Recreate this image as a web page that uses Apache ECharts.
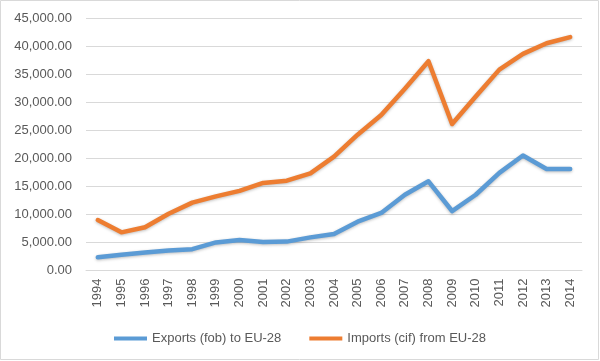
<!DOCTYPE html>
<html><head><meta charset="utf-8">
<script src="https://cdn.jsdelivr.net/npm/echarts@6/dist/echarts.min.js"></script>
<style>html,body{margin:0;padding:0;background:#fff}#c{width:600px;height:361px}</style>
</head><body><div id="c"></div>
<script>
var years = ['1994','1995','1996','1997','1998','1999','2000','2001','2002','2003','2004','2005','2006','2007','2008','2009','2010','2011','2012','2013','2014'];
var exportsEU = [2350,2800,3200,3550,3800,5000,5450,5100,5150,5900,6500,8700,10250,13500,15900,10600,13500,17400,20500,18100,18100];
var importsEU = [9000,6800,7700,10100,12100,13200,14200,15600,16000,17300,20300,24200,27700,32400,37300,26100,31000,35800,38600,40500,41600];
var seriesNames = ['Exports (fob) to EU-28','Imports (cif) from EU-28'];
var chart = echarts.init(document.getElementById('c'));
var font = 'Liberation Sans, Arial, sans-serif';
chart.setOption({
  animation:false,
  graphic:[{type:'rect',shape:{x:0.5,y:0.5,width:598,height:359},style:{fill:'none',stroke:'#d9d9d9',lineWidth:1}}],
  grid:{left:86,right:18,top:18,bottom:90.5},
  legend:{top:327,left:'center',itemGap:28,itemWidth:33,itemHeight:4,icon:'rect',
    textStyle:{color:'#595959',fontSize:13,fontFamily:font},
    data:seriesNames},
  xAxis:{type:'category',data:years,boundaryGap:true,
    axisLine:{lineStyle:{color:'#d9d9d9'}},axisTick:{show:false},
    axisLabel:{rotate:90,color:'#595959',fontSize:13,fontFamily:font,margin:8,interval:0}},
  yAxis:{type:'value',min:0,max:45000,interval:5000,
    axisLine:{show:false},axisTick:{show:false},
    splitLine:{lineStyle:{color:'#d9d9d9'}},
    axisLabel:{color:'#595959',fontSize:13,fontFamily:font,margin:14,
      formatter:function(v){return v.toLocaleString('en-US',{minimumFractionDigits:2,maximumFractionDigits:2});}}},
  series:[
    {name:seriesNames[0],type:'line',data:exportsEU,symbol:'none',
     lineStyle:{color:'#5b9bd5',width:4.5,join:'round',cap:'round',shadowColor:'rgba(0,0,0,0.25)',shadowBlur:3,shadowOffsetY:1},
     itemStyle:{color:'#5b9bd5'}},
    {name:seriesNames[1],type:'line',data:importsEU,symbol:'none',
     lineStyle:{color:'#ed7d31',width:4.5,join:'round',cap:'round',shadowColor:'rgba(0,0,0,0.25)',shadowBlur:3,shadowOffsetY:1},
     itemStyle:{color:'#ed7d31'}}
  ]
});
</script></body></html>
